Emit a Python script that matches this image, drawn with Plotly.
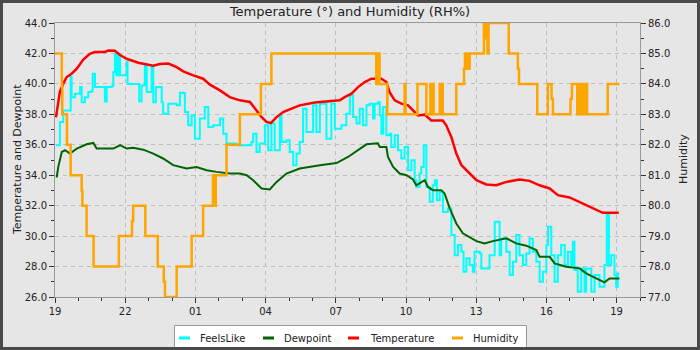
import plotly.graph_objects as go

# Hours elapsed since 19:00 on day one, per series
feels_t = [0.04, 0.21, 0.35, 0.67, 0.71, 0.85, 1.07, 1.14, 1.28, 1.42, 1.57, 1.61, 1.71, 2.06, 2.13, 2.21,
           2.42, 2.49, 2.56, 2.63, 2.70, 2.78, 3.06, 3.10, 3.49, 3.60, 3.70, 3.84, 3.92, 4.13, 4.20, 4.31,
           4.56, 4.62, 4.84, 5.20, 5.34, 5.48, 5.55, 5.69, 5.84, 5.98, 6.19, 6.40, 6.55, 6.76, 7.05, 7.19,
           7.33, 7.76, 8.11, 8.40, 8.47, 8.61, 8.75, 8.97, 9.11, 9.25, 9.39, 9.61, 9.68, 9.89, 10.03, 10.18,
           10.32, 10.46, 10.60, 10.75, 11.03, 11.17, 11.32, 11.46, 11.60, 11.81, 11.96, 12.24, 12.45, 12.60,
           12.74, 12.88, 13.02, 13.16, 13.31, 13.45, 13.59, 13.66, 13.80, 13.88, 13.95, 14.02, 14.16, 14.30,
           14.37, 14.52, 14.66, 14.80, 14.94, 15.09, 15.23, 15.37, 15.44, 15.58, 15.65, 15.76, 15.87, 16.01,
           16.15, 16.23, 16.32, 16.44, 16.58, 16.79, 16.94, 17.08, 17.22, 17.37, 17.46, 17.58, 17.72, 17.86,
           17.93, 18.15, 18.22, 18.43, 18.57, 18.71, 18.79, 18.89, 19.00, 19.07, 19.29, 19.43, 19.57, 19.71,
           19.85, 20.00, 20.14, 20.28, 20.42, 20.57, 20.71, 20.85, 21.00, 21.07, 21.21, 21.35, 21.49, 21.63,
           21.78, 21.92, 22.06, 22.13, 22.20, 22.34, 22.49, 22.63, 22.70, 22.92, 23.06, 23.27, 23.41, 23.48,
           23.58, 23.67, 23.77, 23.91, 23.98, 24.05, 24.12]
feels_v = [35.97, 37.5, 38.26, 40.45, 39.13, 39.36, 39.79, 38.8, 39.13, 39.46, 39.57, 40.67, 39.79, 39.79, 38.85, 39.79,
           39.86, 40.78, 41.98, 40.56, 41.87, 40.56, 41.43, 40.0, 40.0, 38.85, 39.9, 41.2, 39.46, 41.2, 38.8, 39.79,
           38.8, 38.04, 38.7, 38.59, 39.42, 39.4, 38.15, 37.28, 37.93, 36.4, 37.72, 38.48, 37.17, 37.28, 37.72, 36.73,
           36.08, 35.97, 35.97, 36.18, 36.73, 35.53, 36.08, 37.28, 35.64, 37.39, 35.64, 37.93, 36.18, 36.3, 35.53, 34.66,
           35.42, 36.18, 38.37, 36.84, 38.59, 36.84, 38.7, 38.7, 36.4, 38.7, 37.06, 37.28, 38.04, 39.25,
           37.82, 37.39, 38.37, 37.28, 38.59, 38.7, 37.72, 38.7, 38.8, 37.93, 36.73, 38.48, 36.62, 36.73,
           35.86, 36.62, 35.64, 35.1, 35.86, 34.33, 34.98, 33.67, 33.23, 34.11, 34.54, 35.97, 33.23, 32.25,
           33.34, 33.67, 32.36, 32.9, 31.59, 31.82, 30.07, 28.75, 29.41, 28.97, 27.66, 28.54, 28.1, 27.66,
           28.97, 28.86, 27.88, 27.88, 28.75, 28.75, 30.94, 30.94, 28.75, 29.85, 28.97, 27.44, 28.31, 30.07,
           28.75, 28.1, 28.86, 29.85, 28.97, 28.31, 27.0, 27.66, 29.41, 30.61, 28.75, 27.0, 28.75, 29.41,
           28.1, 28.97, 28.1, 29.63, 27.77, 26.35, 27.88, 26.35, 27.88, 26.35, 27.44, 26.68, 26.68, 28.1,
           31.38, 28.1, 28.75, 27.44, 26.68, 27.55, 27.55]

dew_t = [0.07, 0.14, 0.29, 0.43, 0.64, 0.93, 1.35, 1.64, 1.78, 2.49, 2.78, 3.06, 3.34, 3.77, 4.20, 4.62,
         5.05, 5.62, 6.05, 6.48, 6.90, 7.47, 7.90, 8.19, 8.47, 8.83, 9.18, 9.47, 9.89, 10.46, 11.32, 12.03,
         12.52, 13.02, 13.31, 13.80, 13.88, 14.16, 14.23, 14.45, 14.73, 15.02, 15.30, 15.44, 15.80, 15.94,
         16.15, 16.51, 16.65, 16.87, 17.15, 17.43, 17.72, 18.01, 18.36, 18.71, 19.29, 19.71, 20.14, 20.57,
         20.71, 21.14, 21.35, 21.85, 22.42, 22.70, 23.13, 23.48, 23.70, 24.12]
dew_v = [33.85, 34.55, 35.53, 35.64, 35.42, 35.75, 36.03, 36.12, 35.75, 35.75, 35.97, 35.75, 35.81, 35.68, 35.42, 35.1,
         34.66, 34.44, 34.54, 34.33, 34.22, 34.11, 34.11, 34.0, 33.67, 33.13, 33.06, 33.56, 34.11, 34.44, 34.66, 34.8,
         35.2, 35.75, 36.03, 36.1, 35.86, 35.86, 35.2, 34.54, 34.11, 34.0, 33.72, 33.34, 33.67, 33.23,
         33.02, 33.02, 32.8, 31.82, 30.83, 30.18, 29.95, 29.67, 29.52, 29.67, 29.85, 29.52, 29.37, 29.08,
         28.64, 28.64, 28.21, 27.99, 27.88, 27.55, 27.22, 26.96, 27.22, 27.22]

temp_t = [0.04, 0.21, 0.35, 0.50, 0.71, 0.93, 1.21, 1.49, 1.71, 2.13, 2.28, 2.56, 2.78, 3.06, 3.56, 4.06,
          4.20, 4.48, 4.84, 5.20, 5.48, 5.91, 6.33, 6.62, 7.05, 7.47, 7.90, 8.33, 8.61, 8.83, 9.04, 9.22,
          9.47, 9.75, 10.11, 10.46, 11.10, 11.67, 12.17, 12.38, 12.67, 12.95, 13.24, 13.52, 13.95, 14.16,
          14.30, 14.52, 14.80, 15.09, 15.30, 15.51, 15.80, 16.08, 16.57, 16.72, 16.94, 17.15, 17.37, 17.65,
          18.01, 18.43, 18.86, 19.29, 19.85, 20.28, 20.71, 21.14, 21.49, 21.99, 22.56, 23.13, 23.41, 24.09]
temp_v = [37.8, 39.5, 40.0, 40.45, 40.67, 41.0, 41.6, 41.98, 42.09, 42.1, 42.2, 42.18, 41.9, 41.65, 41.39, 41.26,
          41.2, 41.3, 41.34, 41.1, 40.82, 40.56, 40.34, 39.95, 39.57, 39.13, 38.92, 38.81, 38.26, 37.82, 37.5, 37.43,
          37.82, 38.15, 38.37, 38.59, 38.77, 38.85, 38.92, 39.13, 39.36, 39.79, 40.12, 40.34, 40.34, 40.12,
          39.46, 38.92, 38.7, 38.59, 38.26, 37.93, 37.98, 37.6, 37.6, 37.28, 36.5, 35.42, 34.66, 34.22,
          33.67, 33.39, 33.34, 33.56, 33.72, 33.63, 33.34, 33.13, 32.69, 32.54, 32.14, 31.7, 31.53, 31.53]

hum_t = [0.00, 0.29, 0.31, 0.51, 0.67, 1.14, 1.17, 1.35, 1.65, 2.73, 3.29, 3.34, 3.86, 4.39, 4.65, 4.70,
         5.20, 5.84, 6.33, 6.75, 6.78, 6.81, 6.84, 6.87, 7.33, 7.90, 8.80, 9.25, 13.73, 13.76, 13.80, 13.84,
         13.87, 14.20, 14.94, 14.98, 15.49, 15.87, 16.04, 16.08, 16.12, 16.18, 16.44, 16.48, 16.53, 16.57,
         17.15, 17.48, 17.52, 17.56, 17.60, 17.64, 17.72, 18.33, 18.38, 18.43, 18.48, 18.53, 19.39, 19.78,
         19.83, 20.61, 21.06, 21.22, 21.28, 22.03, 22.09, 22.32, 22.36, 22.40, 22.45, 22.53, 22.57, 22.62,
         22.66, 22.74, 23.62, 24.12]
hum_v = [85, 84, 83, 82, 81, 80.5, 80, 79, 78, 79, 79.5, 80, 79, 78, 77.5, 77,
         78, 79, 80, 81, 80, 81, 80, 81, 82, 83, 84, 85, 84, 85, 84, 85,
         84, 83, 84, 83, 84, 83, 84, 83, 84, 83, 84, 83, 84, 83,
         84, 84.5, 85, 84.5, 85, 84.5, 85, 86, 85.5, 86, 85, 86, 85, 84.5,
         84, 83, 84, 83.5, 83, 83.5, 84, 83, 84, 83, 84, 83, 84, 83,
         84, 83, 84, 84]

hour_ticks = [0, 3, 6, 9, 12, 15, 18, 21, 24]
hour_labels = ["19", "22", "01", "04", "07", "10", "13", "16", "19"]

series_names = ["FeelsLike", "Dewpoint", "Temperature", "Humidity"]
series_colors = ["#00ffff", "#006400", "#ff0000", "#ffa500"]

BG = "#e6e6e6"
FONT = "DejaVu Sans"
TXT = "#222222"

# figure geometry (pixels)
W, H = 700, 350
ML, MR, MT, MB = 55, 60, 23, 53
PW, PH = W - ML - MR, H - MT - MB


def px_x(x):
    return (x - ML) / PW


def px_y(y):
    return (H - MB - y) / PH


fig = go.Figure()
fig.add_trace(go.Scatter(x=feels_t, y=feels_v, mode="lines", name=series_names[0],
                         line=dict(color=series_colors[0], width=2, shape="hv")))
fig.add_trace(go.Scatter(x=dew_t, y=dew_v, mode="lines", name=series_names[1],
                         line=dict(color=series_colors[1], width=2)))
fig.add_trace(go.Scatter(x=temp_t, y=temp_v, mode="lines", name=series_names[2],
                         line=dict(color=series_colors[2], width=2.5)))
fig.add_trace(go.Scatter(x=hum_t, y=hum_v, mode="lines", yaxis="y2", name=series_names[3],
                         line=dict(color=series_colors[3], width=2.5, shape="hv")))

axis_common = dict(showline=True, linecolor="#999999", linewidth=1, ticks="outside", ticklen=5,
                   tickcolor="#333333", tickfont=dict(family=FONT, size=10, color=TXT),
                   gridcolor="#bdbdbd", griddash="4px,4px", gridwidth=1, zeroline=False, automargin=False)

# Legend box drawn as shapes and text
legend_box = (174, 325, 526, 350)
legend_lines = [(179, 190), (263, 274), (348, 359), (452, 463)]
legend_text_x = [199, 283, 369, 472]
legend_y = 338

shapes = [dict(type="rect", xref="paper", yref="paper", layer="above",
               x0=px_x(legend_box[0] + 0.5), x1=px_x(legend_box[2] + 0.5),
               y0=px_y(legend_box[3]), y1=px_y(legend_box[1] + 0.5),
               line=dict(color="#999999", width=1), fillcolor="#ffffff")]
annotations = []
for name, col, (lx0, lx1), tx in zip(series_names, series_colors, legend_lines, legend_text_x):
    shapes.append(dict(type="line", xref="paper", yref="paper", x0=px_x(lx0), x1=px_x(lx1),
                       y0=px_y(legend_y), y1=px_y(legend_y), line=dict(color=col, width=3)))
    annotations.append(dict(text=name, xref="paper", yref="paper", x=px_x(tx - 1), y=px_y(legend_y),
                            xanchor="left", yanchor="middle", showarrow=False,
                            font=dict(family=FONT, size=10, color=TXT)))

# axis titles
annotations.append(dict(text="Temperature and Dewpoint", xref="paper", yref="paper", x=px_x(17),
                        y=px_y(160), textangle=-90, showarrow=False, xanchor="center", yanchor="middle",
                        font=dict(family=FONT, size=11, color=TXT)))
annotations.append(dict(text="Humidity", xref="paper", yref="paper", x=px_x(683),
                        y=px_y(159), textangle=-90, showarrow=False, xanchor="center", yanchor="middle",
                        font=dict(family=FONT, size=11, color=TXT)))

# outer dark frame
shapes.append(dict(type="rect", xref="paper", yref="paper", layer="above",
                   x0=px_x(1.5), x1=px_x(W - 1.5), y0=px_y(H - 1.5), y1=px_y(1.5),
                   line=dict(color="#4a4a4a", width=3), fillcolor="rgba(0,0,0,0)"))

fig.update_layout(
    width=W, height=H,
    paper_bgcolor=BG, plot_bgcolor=BG,
    margin=dict(l=ML, r=MR, t=MT, b=MB, autoexpand=False),
    showlegend=False,
    font=dict(family=FONT, size=10, color=TXT),
    title=dict(text="Temperature (°) and Humidity (RH%)", x=0.5, xanchor="center", y=1 - 11.5 / H,
               yanchor="middle", font=dict(family=FONT, size=13, color=TXT)),
    xaxis=dict(range=[0, 25], tickvals=hour_ticks, ticktext=hour_labels, mirror=True, showgrid=True,
               minor=dict(dtick=1, tick0=0, ticks="outside", ticklen=3, tickcolor="#333333", showgrid=False),
               **axis_common),
    yaxis=dict(range=[26, 44], dtick=2, tick0=26, tickformat=".1f", mirror=True, showgrid=True,
               minor=dict(dtick=1, ticks="outside", ticklen=3, tickcolor="#333333", showgrid=False),
               **axis_common),
    yaxis2=dict(range=[77, 86], dtick=1, tick0=77, tickformat=".1f", overlaying="y", side="right",
                showgrid=False,
                minor=dict(dtick=0.5, ticks="outside", ticklen=3, tickcolor="#333333", showgrid=False),
                **axis_common),
    shapes=shapes,
    annotations=annotations,
)

fig.write_html("out.html")
